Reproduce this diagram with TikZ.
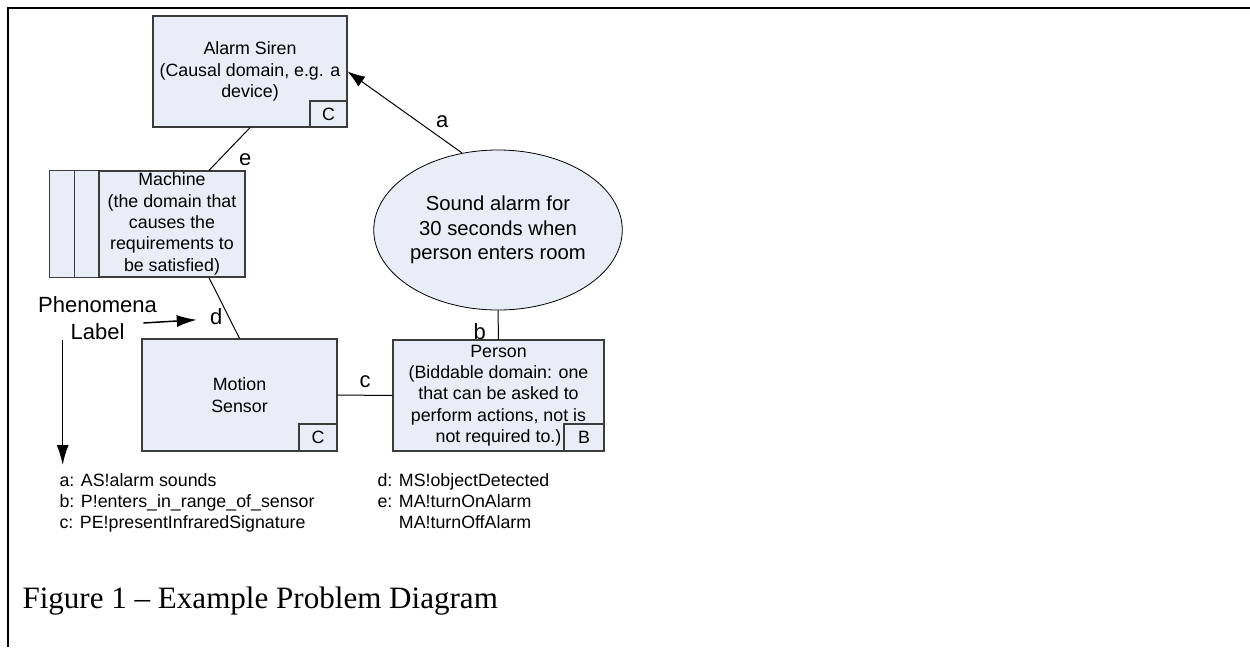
\documentclass[tikz,border=0pt]{standalone}
\usepackage{fontspec}
\setmainfont{Liberation Sans}
\newfontfamily\figfont{Liberation Serif}
\usetikzlibrary{arrows.meta,positioning,shapes.geometric,calc}
\definecolor{domfill}{RGB}{232,237,248}
\definecolor{domline}{RGB}{60,60,60}

\begin{document}
\begin{tikzpicture}[x=0.75pt,y=-0.75pt,line width=0.75pt]
   \tikzstyle{dombox}=[draw=domline,fill=domfill,line width=1pt,align=center,inner sep=0pt,font=\fontsize{13.35}{16}\selectfont]
   \tikzstyle{tagbox}=[dombox,anchor=south east,minimum width=28.5pt,minimum height=20.25pt]
   \tikzstyle{reqnode}=[ellipse,draw,fill=domfill,line width=0.6pt,align=center,inner sep=0pt,minimum width=181.5pt,minimum height=120pt,font=\fontsize{15.2}{18.4}\selectfont]
   \tikzstyle{lbl}=[inner sep=1pt,font=\fontsize{16.5}{20.25}\selectfont]
   \tikzstyle{legtext}=[anchor=north west,align=left,inner sep=0pt,font=\fontsize{13.35}{15.75}\selectfont]
   \tikzstyle{ptr}=[-{Latex[length=15pt,width=9pt]},line width=1.1pt]

   \useasboundingbox (0,0) rectangle (1250,647);
   \draw[line width=1.5pt] (8,647) -- (8,8) -- (1250,8);

   \node[dombox,minimum width=145.5pt,minimum height=83.25pt] (AS) at (250,71.5)  {Alarm Siren\\(Causal domain, e.g. a\\device)};
   \node[dombox,minimum width=109.5pt,minimum height=79.5pt]  (MA) at (172,224)   {Machine\\(the domain that\\causes the\\requirements to\\be satisfied)};
   \node[dombox,minimum width=146.25pt,minimum height=84pt]   (MS) at (239.5,395) {Motion\\Sensor};
   \node[dombox,minimum width=158.25pt,minimum height=83.25pt](PE) at (498.5,395.5) {Person\\(Biddable domain: one\\that can be asked to\\perform actions, not is\\not required to.)};
   \node[reqnode] (R) at (498,230) {Sound alarm for\\ 30 seconds when\\person enters room};

   \draw[dombox] ($(MA.north west)+(-49,0)$) rectangle (MA.south west);
   \draw[draw=domline,line width=1pt] ($(MA.north west)+(-24,0)$) -- ($(MA.south west)+(-24,0)$);

   \node[tagbox,minimum width=27.75pt,minimum height=19.5pt] (ASt) at (AS.south east) {C};
   \node[tagbox]                      (MSt) at (MS.south east) {C};
   \node[tagbox,minimum width=30pt]   (PEt) at (PE.south east) {B};

   \path (R.115)     edge[-{Latex[length=13pt,width=9pt]}] node[lbl,pos=0.26,above right=2pt] {a} (AS.east)
         (AS.south)  edge node[lbl,pos=0.75,right=13.5pt] {e} ([xshift=27.75pt]MA.north)
         (R.south)   edge node[lbl,pos=0.75,left=8pt]     {b} (PE.north)
         (MS.east)   edge node[lbl,above=4pt]             {c} (PE.west);
   \draw ([xshift=27.75pt]MA.south) -- node[lbl,pos=0.645,left=3.3pt] (dl) {d} (MS.north);

   \node[lbl,align=center,inner sep=0pt] (PL) at (97.5,318) {Phenomena\\Label};
   \coordinate (PLfoot) at ($(PL.south west)+(25,0)$);

   \node[legtext] (LA) at (59,473)  {a: AS!alarm sounds\\b: P!enters\_in\_range\_of\_sensor\\c: PE!presentInfraredSignature};
   \node[legtext] (LB) at (377,473) {d: MS!objectDetected\\e: MA!turnOnAlarm\\\phantom{e: }MA!turnOffAlarm};

   \draw[ptr] ([xshift=-10.5pt,yshift=-3.75pt]PL.east) -- ([xshift=-8.7pt,yshift=-2.25pt]dl.west);
   \draw[ptr,shorten >=6pt] (PLfoot) -- (PLfoot |- LA.north);

   \node[anchor=base west,inner sep=0pt,font=\figfont\fontsize{23.3}{28}\selectfont] (cap) at (22,608) {Figure 1 – Example Problem Diagram};
\end{tikzpicture}
\end{document}
